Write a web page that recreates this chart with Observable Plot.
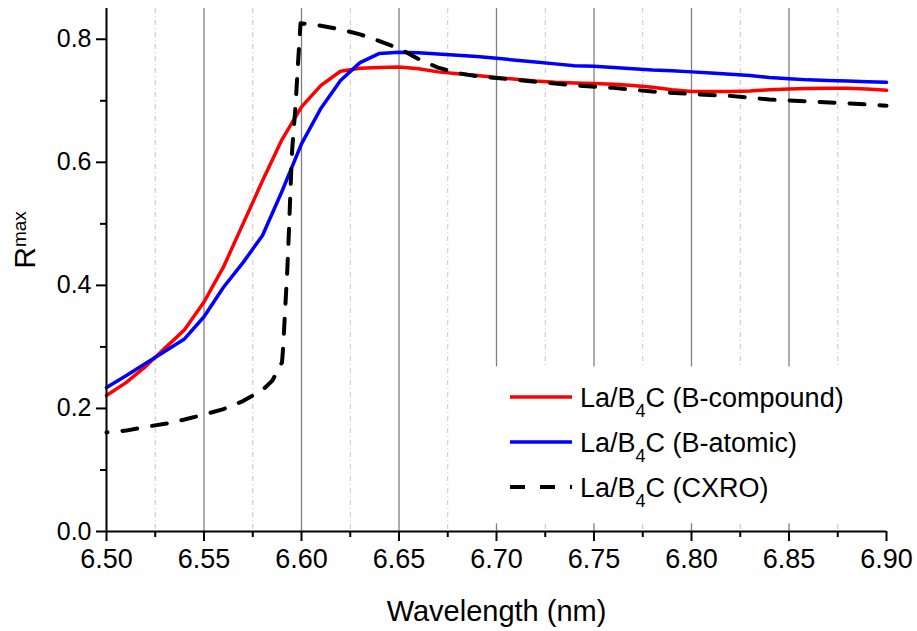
<!DOCTYPE html>
<html><head><meta charset="utf-8">
<script src="https://cdn.jsdelivr.net/npm/d3@7"></script>
<script src="https://cdn.jsdelivr.net/npm/@observablehq/plot@0.6"></script>
<style>
body{margin:0;background:#fff;}
#chart svg{font-family:"Liberation Sans",Arial,Helvetica,sans-serif;}
</style>
</head><body><div id="chart"></div>
<script>
// ---- data ----
const wavelength = [6.50,6.51,6.52,6.53,6.54,6.55,6.56,6.57,6.58,6.59,6.60,6.61,6.62,6.63,6.64,6.65,6.66,6.67,6.68,6.69,6.70,6.71,6.72,6.73,6.74,6.75,6.76,6.77,6.78,6.79,6.80,6.81,6.82,6.83,6.84,6.85,6.86,6.87,6.88,6.89,6.90];
const rCompound = [0.221,0.242,0.268,0.298,0.328,0.373,0.430,0.500,0.570,0.637,0.690,0.725,0.748,0.753,0.754,0.755,0.752,0.747,0.744,0.741,0.738,0.735,0.732,0.730,0.729,0.728,0.727,0.725,0.722,0.718,0.715,0.715,0.715,0.716,0.718,0.719,0.720,0.7205,0.7205,0.719,0.717];
const rAtomic = [0.234,0.253,0.273,0.293,0.313,0.349,0.397,0.437,0.481,0.553,0.630,0.688,0.733,0.762,0.777,0.779,0.778,0.776,0.774,0.772,0.769,0.766,0.763,0.760,0.757,0.756,0.754,0.752,0.750,0.749,0.747,0.745,0.743,0.741,0.738,0.736,0.734,0.733,0.732,0.731,0.730];
const cxroWavelength = [6.50,6.51,6.52,6.53,6.54,6.55,6.56,6.57,6.58,6.585,6.59,6.5906,6.5914,6.5927,6.5935,6.5944,6.5952,6.5969,6.5981,6.5995,6.61,6.62,6.63,6.64,6.65,6.66,6.67,6.68,6.69,6.70,6.72,6.74,6.76,6.78,6.80,6.82,6.84,6.86,6.88,6.90];
const rCxro = [0.161,0.164,0.170,0.175,0.182,0.190,0.199,0.212,0.230,0.245,0.275,0.299,0.348,0.424,0.484,0.560,0.620,0.690,0.755,0.826,0.822,0.816,0.808,0.797,0.785,0.768,0.754,0.745,0.740,0.737,0.731,0.725,0.721,0.715,0.711,0.708,0.702,0.699,0.696,0.692];
const xMajorTicks = [6.50,6.55,6.60,6.65,6.70,6.75,6.80,6.85,6.90];
const xMinorTicks = [6.525,6.575,6.625,6.675,6.725,6.775,6.825,6.875];
const yMajorTicks = [0.0,0.2,0.4,0.6,0.8];
const yMinorTicks = [0.1,0.3,0.5,0.7];
const seriesLabels = ["(B-compound)","(B-atomic)","(CXRO)"];
const seriesColors = ["#ff0000","#0000ff","#000000"];
const xTitle = "Wavelength (nm)";

const compound = wavelength.map((w,i)=>({w, r:rCompound[i]}));
const atomic = wavelength.map((w,i)=>({w, r:rAtomic[i]}));
const cxro = cxroWavelength.map((w,i)=>({w, r:rCxro[i]}));

const chart = Plot.plot({
  width:917, height:631,
  marginLeft:106, marginRight:31, marginTop:8, marginBottom:100,
  x:{domain:[6.5,6.9]},
  y:{domain:[0,0.85]},
  style:{background:"white", color:"black", fontFamily:"'Liberation Sans',Arial,sans-serif"},
  marks:[
    Plot.ruleX(xMinorTicks,{stroke:"#c4c4c4", strokeWidth:1, strokeDasharray:"5,3,1,3"}),
    Plot.ruleX(xMajorTicks.slice(1,-1),{stroke:"#808080", strokeWidth:1.3}),
    Plot.line(compound,{x:"w", y:"r", stroke:seriesColors[0], strokeWidth:3.5}),
    Plot.line(atomic,{x:"w", y:"r", stroke:seriesColors[1], strokeWidth:3.5}),
    Plot.line(cxro,{x:"w", y:"r", stroke:seriesColors[2], strokeWidth:4, strokeDasharray:"15,15", strokeDashoffset:14}),
    Plot.axisX({ticks:xMajorTicks, tickSize:10, tickPadding:7, tickFormat:".2f", fontSize:27, strokeWidth:2, label:null}),
    Plot.axisX({ticks:xMinorTicks, tickSize:6, tickFormat:()=>"", strokeWidth:2, label:null}),
    Plot.axisY({ticks:yMajorTicks, tickSize:10, tickPadding:5, tickFormat:".1f", fontSize:25, strokeWidth:2, label:null}),
    Plot.axisY({ticks:yMinorTicks, tickSize:6, tickFormat:()=>"", strokeWidth:2, label:null}),
    Plot.ruleY([0],{stroke:"black", strokeWidth:2}),
    Plot.ruleX([6.5],{stroke:"black", strokeWidth:2}),
    Plot.text([xTitle],{frameAnchor:"bottom", lineAnchor:"middle", dy:80, fontSize:29, fill:"black"})
  ]
});
document.getElementById("chart").appendChild(chart);

const svg = d3.select(chart);
const xs = chart.scale("x"), ys = chart.scale("y");

// legend white box (hides gridlines behind legend), inserted below the curves
const bx0 = xs.apply(6.6925), bx1 = xs.apply(6.9);
const by0 = ys.apply(0.2675), by1 = ys.apply(0.0125);
svg.insert("rect","g[aria-label='line']")
  .attr("x",bx0).attr("y",by0).attr("width",bx1-bx0).attr("height",by1-by0)
  .attr("fill","white");

// legend entries
const legendX = 510, rowY = [397,442,487];
const lg = svg.append("g").attr("text-anchor","start");
seriesLabels.forEach((lab,i)=>{
  const y = rowY[i];
  const ln = lg.append("line").attr("x1",legendX).attr("x2",legendX+62).attr("y1",y).attr("y2",y)
    .attr("stroke",seriesColors[i]).attr("stroke-width",i===2?4:3.5);
  if(i===2) ln.attr("stroke-dasharray","15,15");
  const t = lg.append("text").attr("x",legendX+70).attr("y",y+10).attr("font-size",27)
    .attr("fill","black").attr("text-anchor","start");
  t.append("tspan").text("La/B");
  t.append("tspan").attr("font-size",18).attr("dy",10).text("4");
  t.append("tspan").attr("dy",-10).text("C " + lab);
});

// y axis title R^max
const yl = svg.append("text").attr("transform","translate(35,240) rotate(-90)")
  .attr("text-anchor","middle").attr("font-size",30).attr("fill","black");
yl.append("tspan").text("R");
yl.append("tspan").attr("font-size",19).attr("dy",-9).text("max");
</script>
</body></html>
